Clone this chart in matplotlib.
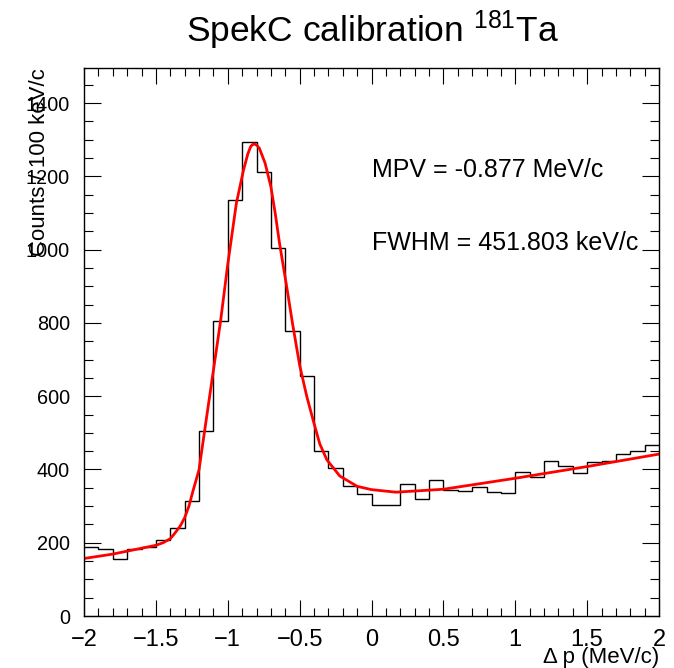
import numpy as np
import matplotlib
matplotlib.use("Agg")
import matplotlib.pyplot as plt
from matplotlib.ticker import FixedLocator, MultipleLocator

plt.rcParams['font.family'] = ['Liberation Sans', 'DejaVu Sans']
plt.rcParams['mathtext.fontset'] = 'custom'
plt.rcParams['mathtext.rm'] = 'Liberation Sans'
plt.rcParams['mathtext.it'] = 'Liberation Sans'

# ---- data ----
bin_low, bin_high, n_bins = -2.0, 2.0, 40
counts = [188, 183, 156, 182, 188, 207, 241, 313, 506, 806,
          1136, 1293, 1211, 1004, 777, 655, 451, 403, 354, 334,
          302, 304, 360, 320, 370, 343, 340, 353, 338, 336,
          394, 379, 424, 410, 391, 421, 424, 442, 450, 467]

fit_x = [-2.0, -1.8, -1.6, -1.5, -1.45, -1.4, -1.37, -1.33, -1.3, -1.27,
         -1.24, -1.2, -1.15, -1.1, -1.05, -1.0, -0.94, -0.89, -0.86, -0.84,
         -0.82, -0.8, -0.78, -0.74, -0.7, -0.67, -0.64, -0.59, -0.55, -0.5,
         -0.45, -0.4, -0.36, -0.31, -0.22, -0.1, 0.0, 0.17, 0.5, 1.0, 1.5, 2.0]
fit_y = [157, 169, 185, 193, 200, 211, 225, 246, 268, 300,
         344, 399, 535, 670, 805, 960, 1127, 1218, 1262, 1282,
         1289, 1286, 1277, 1236, 1172, 1100, 1018, 899, 800, 685,
         599, 526, 470, 426, 382, 354, 345, 338, 346, 376, 408, 442]

x_ticks = [-2, -1.5, -1, -0.5, 0, 0.5, 1, 1.5, 2]
x_tick_labels = ["\u22122", "\u22121.5", "\u22121", "\u22120.5", "0", "0.5", "1", "1.5", "2"]
y_ticks = [0, 200, 400, 600, 800, 1000, 1200, 1400]
y_tick_labels = ["0", "200", "400", "600", "800", "1000", "1200", "1400"]

title = r"SpekC calibration $^{181}$Ta"
x_title = "\u0394 p (MeV/c)"
y_title = "Counts / 100 keV/c"
ann1 = "MPV = -0.877 MeV/c"
ann2 = "FWHM = 451.803 keV/c"

# ---- figure ----
W, H = 674, 668
fig = plt.figure(figsize=(W / 100, H / 100), dpi=100)
L, R, T, B = 84, 659, 68, 616
ax = fig.add_axes([L / W, 1 - B / H, (R - L) / W, (B - T) / H])

edges = np.linspace(bin_low, bin_high, n_bins + 1)
ax.stairs(counts, edges, color='black', lw=1.0, baseline=None)
ax.plot(fit_x, fit_y, color='red', lw=2.0)

ax.set_xlim(-2, 2)
ax.set_ylim(0, 1496)

ax.xaxis.set_major_locator(FixedLocator(x_ticks))
ax.set_xticklabels(x_tick_labels)
ax.xaxis.set_minor_locator(MultipleLocator(0.1))
ax.yaxis.set_major_locator(FixedLocator(y_ticks))
ax.set_yticklabels(y_tick_labels)
ax.yaxis.set_minor_locator(MultipleLocator(50))

ax.tick_params(axis='x', which='major', direction='in', length=11.5, width=0.8,
               top=True, labelsize=17, pad=9)
ax.tick_params(axis='x', which='minor', direction='in', length=5.8, width=0.8, top=True)
ax.tick_params(axis='y', which='major', direction='in', length=12.4, width=0.8,
               right=True, labelsize=14.3, pad=10)
ax.tick_params(axis='y', which='minor', direction='in', length=6.2, width=0.8, right=True)
for s in ax.spines.values():
    s.set_linewidth(1.0)

ax.text(0.0, 1218, ann1, fontsize=18, ha='left', va='center')
ax.text(0.0, 1018, ann2, fontsize=18, ha='left', va='center')

fig.text(372 / W, 1 - 30 / H, title, fontsize=25.5, ha='center', va='center')
fig.text(R / W, 1 - 658 / H, x_title, fontsize=16, ha='right', va='center')
fig.text(40 / W, 1 - T / H, y_title, fontsize=16, rotation=90, ha='center', va='top')

fig.savefig("out.png", dpi=100)
